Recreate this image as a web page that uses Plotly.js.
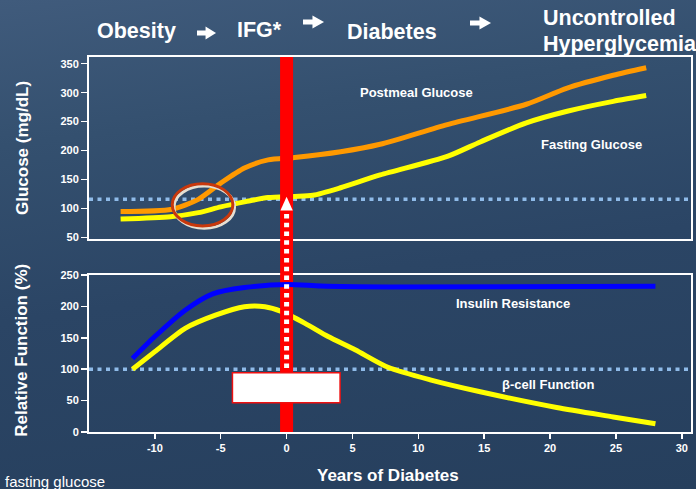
<!DOCTYPE html>
<html>
<head>
<meta charset="utf-8">
<script src="https://cdn.plot.ly/plotly-3.0.1.min.js"></script>
<style>
  html, body { margin: 0; padding: 0; }
  #chart {
    width: 696px; height: 489px;
    background: linear-gradient(172deg, #405b7c 0%, #34506f 25%, #2b4565 55%, #263f5d 100%);
  }
</style>
</head>
<body>
<div id="chart"></div>
<script>
// ---- data ----
const postmealYears = [-12.6, -8.7, -6.7, -5.0, -3.2, -1.4, 0.6, 4.1, 7.1, 12.2, 18.2, 21.3, 24.8, 27.3];
const postmealGlucose = [95, 99, 116, 144, 170, 184, 188, 198, 211, 245, 280, 308, 330, 343];

const fastingYears = [-12.6, -8.8, -6.7, -5.0, -3.1, -1.4, 0.6, 2.0, 4.1, 7.1, 12.2, 14.7, 18.2, 21.3, 24.8, 27.3];
const fastingGlucose = [82, 86, 93, 103, 112, 119, 121, 123, 136, 158, 190, 215, 248, 268, 285, 295];

const insulinYears = [-11.7, -10.0, -7.7, -5.6, -3.2, 0.1, 2.6, 7.7, 28.0];
const insulinResistance = [117, 152, 194, 220, 230, 235, 232.5, 231, 232];

const betaYears = [-11.7, -10.0, -7.7, -5.4, -3.2, -1.65, -0.4, 1.4, 3.15, 5.2, 7.7, 10.9, 14.7, 20.5, 24.8, 28.0];
const betaCellFunction = [100, 128, 165, 186, 199.5, 199.5, 192, 173, 152, 131, 103, 83, 64, 39, 24, 13];

const onsetYear = 0;          // diagnosis of diabetes
const ifgThreshold = 116;     // glucose reference line
const normalFunction = 100;   // relative function reference line

const glucoseTicks = [50, 100, 150, 200, 250, 300, 350];
const functionTicks = [0, 50, 100, 150, 200, 250];
const yearTickVals = [-10, -5, 0, 5, 10, 15, 20, 25, 30];
const yearTickText = ['-10', '-5', '0', '5', '10', '15', '20', '25', '30'];

const glucoseRange = [47.6, 361.5];
const functionRange = [0, 250];
const yearRange = [-15, 30.7];

// ---- styling ----
const FONT = 'Liberation Sans, Arial, sans-serif';
const WHITE = '#ffffff';
const DOT = '#8fbbe9';
const W = 696, H = 489, ML = 89, MR = 5, MT = 57, MB = 57;
const PW = W - ML - MR, PH = H - MT - MB;
const px2x = (p) => (p - ML) / PW;
const py2y = (p) => (H - MB - p) / PH;

const lineStyle = (color) => ({ color: color, width: 5, shape: 'spline', smoothing: 0.7 });

const traces = [
  { x: postmealYears, y: postmealGlucose, xaxis: 'x', yaxis: 'y', mode: 'lines', line: lineStyle('#ff9900'), name: 'Postmeal Glucose' },
  { x: fastingYears, y: fastingGlucose, xaxis: 'x', yaxis: 'y', mode: 'lines', line: lineStyle('#ffff00'), name: 'Fasting Glucose' },
  { x: [onsetYear, onsetYear], y: glucoseRange, xaxis: 'x', yaxis: 'y', mode: 'lines', line: { color: '#ff0000', width: 13 }, name: 'onset' },
  { x: betaYears, y: betaCellFunction, xaxis: 'x2', yaxis: 'y2', mode: 'lines', line: lineStyle('#ffff00'), name: 'β-cell Function' },
  { x: [onsetYear, onsetYear], y: functionRange, xaxis: 'x2', yaxis: 'y2', mode: 'lines', line: { color: '#ff0000', width: 13 }, name: 'onset2' },
  { x: insulinYears, y: insulinResistance, xaxis: 'x2', yaxis: 'y2', mode: 'lines', line: lineStyle('#0000ff'), name: 'Insulin Resistance' }
];

const tickFont = { family: FONT, size: 11, color: WHITE, weight: 'bold' };
const axisCommon = {
  showline: true, mirror: true, linecolor: WHITE, linewidth: 2,
  showgrid: false, zeroline: false, layer: 'below traces', fixedrange: true
};

const topDomain = [0.5147, 1];
const botDomain = [0, 0.4187];

function ann(text, x, y, size, opts) {
  return Object.assign({
    text: text, x: x, y: y, xref: 'paper', yref: 'paper', showarrow: false,
    xanchor: 'center', yanchor: 'middle',
    font: { family: FONT, size: size, color: WHITE, weight: 'bold' }
  }, opts || {});
}

// block arrow in the header, given in pixel position
function headerArrow(x0, x1, yc) {
  const xm = x0 + (x1 - x0) * 0.45;
  const sh = 2.6, hh = 6.5;
  const pts = [[x0, yc - sh], [xm, yc - sh], [xm, yc - hh], [x1, yc], [xm, yc + hh], [xm, yc + sh], [x0, yc + sh]];
  const path = pts.map((p, i) => (i ? 'L ' : 'M ') + px2x(p[0]).toFixed(4) + ' ' + py2y(p[1]).toFixed(4)).join(' ') + ' Z';
  return { type: 'path', xref: 'paper', yref: 'paper', path: path, fillcolor: WHITE, line: { width: 0 }, layer: 'above' };
}

const layout = {
  width: W, height: H,
  margin: { l: ML, r: MR, t: MT, b: MB },
  paper_bgcolor: 'rgba(0,0,0,0)',
  plot_bgcolor: 'rgba(0,0,0,0)',
  showlegend: false,
  xaxis: Object.assign({}, axisCommon, { domain: [0, 1], anchor: 'y', range: yearRange, showticklabels: false, ticks: '' }),
  yaxis: Object.assign({}, axisCommon, {
    domain: topDomain, anchor: 'x', range: glucoseRange,
    tickvals: glucoseTicks, ticks: 'outside', ticklen: 6, tickwidth: 1.5, tickcolor: WHITE, tickfont: tickFont
  }),
  xaxis2: Object.assign({}, axisCommon, {
    domain: [0, 1], anchor: 'y2', range: yearRange,
    tickvals: yearTickVals, ticktext: yearTickText, ticks: 'outside', ticklen: 5, tickwidth: 1.5, tickcolor: WHITE, tickfont: tickFont
  }),
  yaxis2: Object.assign({}, axisCommon, {
    domain: botDomain, anchor: 'x2', range: functionRange,
    tickvals: functionTicks, ticks: 'outside', ticklen: 6, tickwidth: 1.5, tickcolor: WHITE, tickfont: tickFont
  }),
  shapes: [
    // reference dotted lines
    { type: 'line', xref: 'paper', yref: 'y', x0: 0, x1: 1, y0: ifgThreshold, y1: ifgThreshold, layer: 'below',
      line: { color: DOT, width: 3.5, dash: '4px,4.5px' } },
    { type: 'line', xref: 'paper', yref: 'y2', x0: 0, x1: 1, y0: normalFunction, y1: normalFunction, layer: 'below',
      line: { color: DOT, width: 3.5, dash: '4px,4.5px' } },
    // red bar across the gap between panels
    { type: 'rect', xref: 'x2', yref: 'paper', x0: onsetYear - 0.49, x1: onsetYear + 0.49, y0: botDomain[1] - 0.003, y1: topDomain[0] + 0.003,
      fillcolor: '#ff0000', line: { width: 0 }, layer: 'above' },
    // white dotted arrow
    { type: 'line', xref: 'x2', yref: 'paper', x0: onsetYear, x1: onsetYear, y0: 0.1707, y1: 0.5907, layer: 'above',
      line: { color: WHITE, width: 5, dash: '4.5px,4.3px' } },
    { type: 'path', xref: 'x2', yref: 'paper', path: 'M -0.47 0.5907 L 0 0.6275 L 0.47 0.5907 Z',
      fillcolor: WHITE, line: { width: 0 }, layer: 'above' },
    // white box
    { type: 'rect', xref: 'x2', yref: 'y2', x0: -4.11, x1: 4.06, y0: 46.7, y1: 94.4, fillcolor: WHITE,
      line: { color: '#ee1111', width: 1.5 }, layer: 'above' },
    // highlight ellipse
    { type: 'circle', xref: 'x', yref: 'y', x0: -8.55, x1: -3.95, y0: 66, y1: 139,
      line: { color: '#e6dfd2', width: 3 }, layer: 'above' },
    { type: 'circle', xref: 'x', yref: 'y', x0: -8.68, x1: -4.08, y0: 70, y1: 143,
      line: { color: '#c8380c', width: 3 }, layer: 'above' },
    // header arrows
    headerArrow(197, 216, 33),
    headerArrow(303, 324, 22),
    headerArrow(470, 491, 23)
  ],
  annotations: [
    ann('Glucose (mg/dL)', -0.1113, 0.7573, 17, { textangle: -90 }),
    ann('Relative Function (%)', -0.1113, 0.2195, 17, { textangle: -90 }),
    ann('Years of Diabetes', 0.4967, -0.1173, 17),
    // series labels
    Object.assign(ann('Postmeal Glucose', 9.83, 300, 13), { xref: 'x', yref: 'y' }),
    Object.assign(ann('Fasting Glucose', 23.17, 210, 13), { xref: 'x', yref: 'y' }),
    Object.assign(ann('Insulin Resistance', 17.2, 205, 13), { xref: 'x2', yref: 'y2' }),
    Object.assign(ann('β-cell Function', 19.87, 76.4, 13), { xref: 'x2', yref: 'y2' }),
    // header
    ann('Obesity', 0.0797, 1.0693, 21.5),
    ann('IFG*', 0.2824, 1.0713, 21.5),
    ann('Diabetes', 0.5033, 1.0667, 21.5),
    ann('Uncontrolled', 0.7508, 1.104, 21.5, { xanchor: 'left' }),
    ann('Hyperglycemia', 0.7508, 1.0347, 21.5, { xanchor: 'left' }),
    // footer
    ann('fasting glucose', -0.1429, -0.1307, 15, { xanchor: 'left', font: { family: FONT, size: 15, color: WHITE } })
  ]
};

Plotly.newPlot('chart', traces, layout, { staticPlot: true, displayModeBar: false });
</script>
</body>
</html>
